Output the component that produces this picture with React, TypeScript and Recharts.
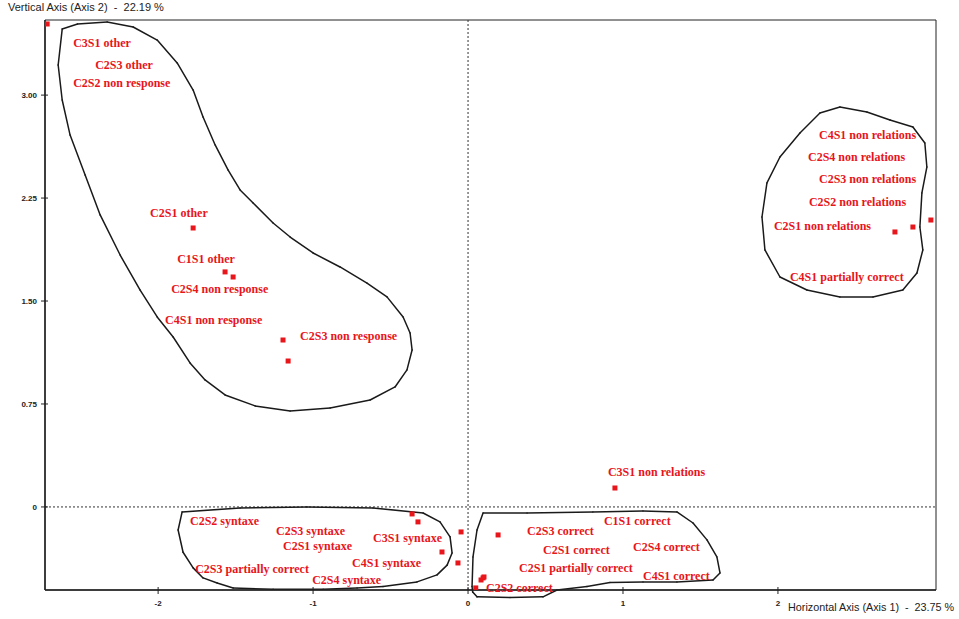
import { ReferenceArea, ReferenceDot, ReferenceLine, Scatter, ScatterChart, XAxis, YAxis } from "recharts";

const xDomain = [-2.73, 3.02];
const yDomain = [-0.605, 3.547];
const xTicks = [-2, -1, 0, 1, 2];
const yTicks = [0, 0.75, 1.5, 2.25, 3];
const yTickLabels: Record<number, string> = { 0: "0", 0.75: "0.75", 1.5: "1.50", 2.25: "2.25", 3: "3.00" };

const xTitle = "Horizontal Axis (Axis 1)  -  23.75 %";
const yTitle = "Vertical Axis (Axis 2)  -  22.19 %";

// coordinates of the plotted modalities
const points: [number, number][] = [
  [-2.716, 3.518],
  [-1.774, 2.032],
  [-1.568, 1.712],
  [-1.516, 1.675],
  [-1.194, 1.216],
  [-1.161, 1.063],
  [2.755, 2.003],
  [2.871, 2.039],
  [2.987, 2.09],
  [0.948, 0.138],
  [-0.361, -0.051],
  [-0.323, -0.109],
  [-0.045, -0.182],
  [-0.168, -0.328],
  [-0.065, -0.408],
  [0.194, -0.204],
  [0.084, -0.532],
  [0.097, -0.517],
  [0.103, -0.51],
  [0.05, -0.59],
];

const labelNames = [
  "C3S1 other", "C2S3 other", "C2S2 non response", "C2S1 other", "C1S1 other",
  "C2S4 non response", "C4S1 non response", "C2S3 non response",
  "C4S1 non relations", "C2S4 non relations", "C2S3 non relations", "C2S2 non relations",
  "C2S1 non relations", "C4S1 partially correct", "C3S1 non relations",
  "C2S2 syntaxe", "C2S3 syntaxe", "C2S1 syntaxe", "C3S1 syntaxe", "C2S3 partially correct",
  "C4S1 syntaxe", "C2S4 syntaxe",
  "C2S3 correct", "C1S1 correct", "C2S1 correct", "C2S4 correct", "C2S1 partially correct",
  "C4S1 correct", "C2S2 correct",
];
const labelX = [
  -2.548, -2.406, -2.548, -2.052, -1.877, -1.916, -1.955, -1.084,
  2.265, 2.194, 2.265, 2.2, 1.974, 2.077, 0.903,
  -1.794, -1.239, -1.194, -0.613, -1.761, -0.748, -1.006,
  0.381, 0.877, 0.484, 1.065, 0.329, 1.129, 0.116,
];
const labelY = [
  3.379, 3.219, 3.088, 2.141, 1.806, 1.588, 1.362, 1.245,
  2.709, 2.549, 2.389, 2.221, 2.047, 1.675, 0.255,
  -0.102, -0.175, -0.284, -0.226, -0.452, -0.408, -0.532,
  -0.175, -0.102, -0.313, -0.291, -0.444, -0.505, -0.59,
];

// hand drawn group outlines
const groupOther: [number, number][] = [
  [-2.619, 3.481], [-2.52, 3.518], [-2.329, 3.532], [-2.161, 3.496], [-2.006, 3.401],
  [-1.877, 3.234], [-1.774, 3.037], [-1.71, 2.84], [-1.632, 2.637], [-1.548, 2.454],
  [-1.471, 2.309], [-1.387, 2.214], [-1.258, 2.068], [-1.148, 1.966], [-1.0, 1.85],
  [-0.826, 1.748], [-0.652, 1.631], [-0.523, 1.53], [-0.419, 1.384], [-0.374, 1.267],
  [-0.361, 1.143], [-0.394, 0.998], [-0.471, 0.874], [-0.632, 0.779], [-0.89, 0.721],
  [-1.148, 0.699], [-1.374, 0.736], [-1.568, 0.816], [-1.697, 0.925], [-1.794, 1.049],
  [-1.903, 1.238], [-2.006, 1.384], [-2.116, 1.58], [-2.245, 1.835], [-2.374, 2.127],
  [-2.471, 2.418], [-2.568, 2.709], [-2.619, 2.964], [-2.645, 3.219],
];
const groupRelations: [number, number][] = [
  [2.4, 2.913], [2.574, 2.877], [2.723, 2.819], [2.871, 2.768], [2.948, 2.651],
  [2.961, 2.476], [2.929, 2.287], [2.916, 2.039], [2.935, 1.872], [2.897, 1.704],
  [2.806, 1.58], [2.613, 1.53], [2.4, 1.53], [2.187, 1.58], [2.013, 1.675],
  [1.916, 1.872], [1.897, 2.112], [1.929, 2.36], [2.013, 2.549], [2.142, 2.724],
  [2.271, 2.87],
];
const groupSyntaxe: [number, number][] = [
  [-1.845, -0.036], [-1.471, -0.007], [-1.039, 0.0], [-0.613, -0.007], [-0.29, -0.044],
  [-0.181, -0.109], [-0.116, -0.218], [-0.103, -0.335], [-0.135, -0.424], [-0.200, -0.495],
  [-0.329, -0.546], [-0.548, -0.58], [-0.716, -0.59], [-0.935, -0.6], [-1.258, -0.6],
  [-1.516, -0.59], [-1.619, -0.554], [-1.71, -0.517], [-1.774, -0.444], [-1.839, -0.33],
  [-1.871, -0.168],
];
const groupCorrect: [number, number][] = [
  [0.097, -0.044], [0.381, -0.044], [0.806, -0.036], [1.129, -0.029], [1.348, -0.036],
  [1.452, -0.117], [1.542, -0.24], [1.606, -0.364], [1.626, -0.481], [1.581, -0.532],
  [1.348, -0.546], [1.129, -0.546], [0.916, -0.55], [0.768, -0.58], [0.574, -0.605],
  [0.484, -0.655], [0.271, -0.66], [0.058, -0.655], [0.03, -0.62], [0.026, -0.58],
  [0.032, -0.364], [0.058, -0.168],
];

const RED = "#e8151b";
const INK = "#222";
const SANS = "Arial, 'Liberation Sans', sans-serif";

const pointRows = points.map(([x, y]) => ({ x, y }));
const outlines = [groupOther, groupRelations, groupSyntaxe, groupCorrect];
const outlineSegments = outlines.flatMap((pts) =>
  pts.map((p, i) => {
    const q = pts[(i + 1) % pts.length];
    return [
      { x: p[0], y: p[1] },
      { x: q[0], y: q[1] },
    ];
  })
);

const XTick = (props: any) => {
  const { x, y, payload } = props;
  return (
    <g>
      <line x1={x} x2={x} y1={y - 3} y2={y + 4} stroke={INK} />
      <text x={x} y={y + 16} textAnchor="middle" fontSize={8} fontWeight="bold" fontFamily={SANS} fill={INK}>
        {payload.value}
      </text>
    </g>
  );
};

const YTick = (props: any) => {
  const { x, y, payload } = props;
  return (
    <g>
      <line x1={x - 4} x2={x + 3} y1={y} y2={y} stroke={INK} />
      <text x={x - 8} y={y + 3} textAnchor="end" fontSize={8} fontWeight="bold" fontFamily={SANS} fill={INK}>
        {yTickLabels[payload.value] ?? payload.value}
      </text>
    </g>
  );
};

const Square = (props: any) => {
  const { cx, cy } = props;
  return <rect x={cx - 2.5} y={cy - 2.5} width={5} height={5} fill={RED} />;
};

const LabelText = (props: any) => {
  const { cx, cy, text } = props;
  return (
    <text
      x={cx}
      y={cy}
      dominantBaseline="central"
      fontSize={12}
      fontWeight="bold"
      fontFamily="'Liberation Serif', 'Times New Roman', serif"
      fill={RED}
    >
      {text}
    </text>
  );
};

export default function App() {
  return (
    <div style={{ position: "absolute", left: 0, top: 0, width: 959, height: 619, background: "#fff" }}>
      <ScatterChart width={959} height={619} margin={{ top: 20, right: 23, bottom: 0, left: 0 }}>
        <XAxis
          type="number"
          dataKey="x"
          domain={xDomain}
          ticks={xTicks}
          allowDataOverflow
          height={29}
          tickSize={0}
          tickMargin={0}
          tickLine={false}
          tick={<XTick />}
          axisLine={{ stroke: INK, strokeWidth: 1.5 }}
        />
        <YAxis
          type="number"
          dataKey="y"
          domain={yDomain}
          ticks={yTicks}
          allowDataOverflow
          width={45}
          tickSize={0}
          tickMargin={0}
          tickLine={false}
          tick={<YTick />}
          axisLine={{ stroke: INK, strokeWidth: 1.5 }}
        />
        <ReferenceArea x1={xDomain[0]} x2={xDomain[1]} y1={yDomain[0]} y2={yDomain[1]} fill="none" stroke={INK} />
        <ReferenceLine x={0} stroke="#333" strokeDasharray="2 2" />
        <ReferenceLine y={0} stroke="#333" strokeDasharray="2 2" />
        {outlineSegments.map((seg, i) => (
          <ReferenceLine
            key={`o${i}`}
            segment={seg}
            ifOverflow="visible"
            stroke="#1a1a1a"
            strokeWidth={1.5}
            strokeLinecap="round"
          />
        ))}
        <Scatter data={pointRows} shape={<Square />} isAnimationActive={false} />
        {labelNames.map((name, i) => (
          <ReferenceDot
            key={`l${i}`}
            x={labelX[i]}
            y={labelY[i]}
            r={0}
            ifOverflow="visible"
            shape={(p: any) => <LabelText {...p} text={name} />}
          />
        ))}
      </ScatterChart>
      <div style={{ position: "absolute", left: 8, top: 1, fontFamily: SANS, fontSize: 11, color: INK, whiteSpace: "pre" }}>
        {yTitle}
      </div>
      <div style={{ position: "absolute", left: 788, top: 601, fontFamily: SANS, fontSize: 10.8, color: INK, whiteSpace: "pre" }}>
        {xTitle}
      </div>
    </div>
  );
}
